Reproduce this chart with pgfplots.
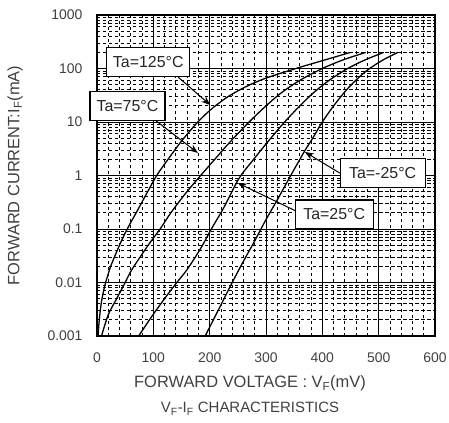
\documentclass[border=0pt]{standalone}
\usepackage{pgfplots}
\pgfplotsset{compat=1.18}
\usepackage{fontspec}
\setmainfont{Liberation Sans}
\usetikzlibrary{arrows.meta,calc}

\begin{document}
\begin{tikzpicture}
\begin{axis}[
  scale only axis, width=338bp, height=321bp,
  xmin=0, xmax=600, ymin=0.001, ymax=1000, ymode=log,
  xtick={0,100,...,600}, xticklabels={0,100,200,300,400,500,600},
  ytick={0.001,0.01,0.1,1,10,100,1000},
  yticklabels={0.001,0.01,0.1,1,10,100,1000},
  minor x tick num=4,
  grid=both,
  major grid style={black, line width=1pt},
  minor grid style={black, line width=0.8pt, dash pattern=on 3.5bp off 2.5bp},
  axis line style={line width=1.8pt},
  major tick length=0pt, minor tick length=0pt,
  ticklabel style={font=\fontsize{14}{14}\selectfont, text=black!75},
  xticklabel style={yshift=-13bp},
  yticklabel style={xshift=-11bp},
  xlabel={{\fontsize{16.5}{16.5}\selectfont FORWARD VOLTAGE : V\textsubscript{F}(mV)}\\V\textsubscript{F}-I\textsubscript{F} CHARACTERISTICS},
  xlabel style={at={(rel axis cs:0.5,0)}, anchor=center, yshift=-59.5bp, xshift=-16bp,
    align=center, font=\fontsize{15}{25}\selectfont, text=black!75},
  ylabel={FORWARD CURRENT:I\textsubscript{F}(mA)},
  ylabel style={at={(rel axis cs:-0.2426,0.5)}, anchor=center,
    font=\fontsize{16.5}{16.5}\selectfont, text=black!75},
]
% Ta=125C
\addplot[black, line width=1.3pt, smooth] coordinates {(2,0.001) (4,0.002) (8,0.0044)
  (14,0.0089) (20,0.0145) (25,0.021) (40,0.05) (53,0.097) (70,0.205) (85,0.4)
  (106,1) (126,2) (147,4) (166,7) (179,10) (196,15) (210,20) (233,30) (263,45)
  (298,65) (353,100) (400,140) (450,200)};
% Ta=75C
\addplot[black, line width=1.3pt, smooth] coordinates {(8,0.001) (20,0.0025) (35,0.005)
  (50,0.01) (62,0.0175) (91,0.05) (112,0.1) (131,0.2) (157,0.46) (184,1) (209,2)
  (234,4) (270,10) (300,20) (327,35) (360,60) (400,100) (437,145) (477,200)};
% Ta=25C
\addplot[black, line width=1.3pt, smooth] coordinates {(74,0.001) (97,0.0023) (120,0.005)
  (140,0.0095) (160,0.0175) (185,0.045) (203,0.1) (225,0.25) (252,0.88) (278,2)
  (305,4.5) (333,10) (360,20) (384,35) (412,60) (445,100) (476,145) (509,200)};
% Ta=-25C
\addplot[black, line width=1.3pt, smooth] coordinates {(192,0.001) (215,0.003) (240,0.01)
  (260,0.025) (280,0.06) (300,0.15) (320,0.35) (341,0.88) (368,2.8) (383,5) (400,10)
  (420,20) (443,40) (466,70) (484,100) (508,145) (534,200)};

\coordinate (b125) at (axis cs:91,132);
\coordinate (s125) at (axis cs:144,69);
\coordinate (e125) at (axis cs:201,20.8);
\coordinate (b75) at (axis cs:54,20);
\coordinate (s75) at (axis cs:103,10.9);
\coordinate (e75) at (axis cs:179,2.64);
\coordinate (bm25) at (axis cs:507,1.11);
\coordinate (sm25) at (axis cs:431,1.11);
\coordinate (em25) at (axis cs:369,2.75);
\coordinate (b25) at (axis cs:421,0.187);
\coordinate (s25) at (axis cs:360,0.2);
\coordinate (e25) at (axis cs:250,0.724);
\end{axis}

\begin{scope}[every node/.style={draw, line width=1.2pt, fill=white, inner sep=0pt,
    minimum height=29bp, font=\fontsize{16}{16}\selectfont, text=black!85}]
\draw[line width=1pt, -{Stealth[length=9pt,width=7pt]}] (s125) -- (e125);
\draw[line width=1pt, -{Stealth[length=9pt,width=7pt]}] (s75) -- (e75);
\draw[line width=1pt, -{Stealth[length=9pt,width=7pt]}] (sm25) -- (em25);
\draw[line width=1pt, -{Stealth[length=9pt,width=7pt]}] (s25) -- (e25);
\node[minimum width=83bp] at (b125) {Ta=125°C};
\node[minimum width=75bp] at (b75) {Ta=75°C};
\node[minimum width=85bp] at (bm25) {Ta=-25°C};
\node[minimum width=78bp] at (b25) {Ta=25°C};
\end{scope}

\pgfresetboundingbox
\path[use as bounding box] ($(current axis.south west)+(-97bp,-87bp)$) rectangle ($(current axis.north east)+(14bp,15bp)$);
\end{tikzpicture}
\end{document}
